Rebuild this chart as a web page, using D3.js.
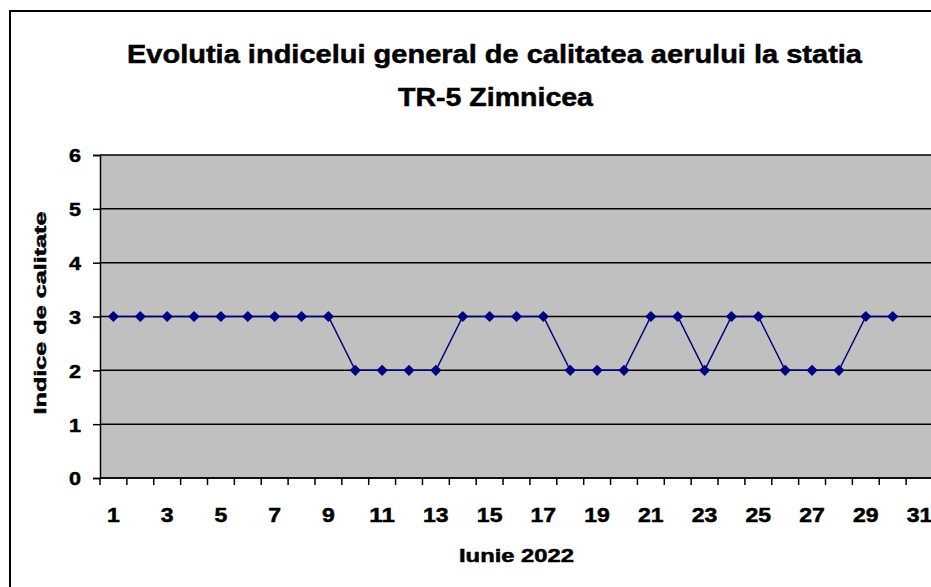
<!DOCTYPE html>
<html>
<head>
<meta charset="utf-8">
<script src="https://cdn.jsdelivr.net/npm/d3@7"></script>
<style>
  body { margin: 0; background: #fff; }
  svg { display: block; font-family: "Liberation Sans", Arial, sans-serif; font-weight: bold; }
  svg text { stroke: #000; stroke-width: 0.5px; fill: #000; }
</style>
</head>
<body>
<div id="content"></div>
<script>
// June 2022, day 31 kept as an empty category like the original
let days = d3.range(1, 32);
let values = [3, 3, 3, 3, 3, 3, 3, 3, 3, 2, 2, 2, 2, 3, 3, 3, 3, 2, 2, 2, 3, 3, 2, 3, 3, 2, 2, 2, 3, 3];
let yTicks = [0, 1, 2, 3, 4, 5, 6];
let titleLines = ["Evolutia indicelui general de calitatea aerului la statia", "TR-5 Zimnicea"];

let width = 931, height = 587;
let margin = {left: 100, top: 155, plotW: 833, plotH: 323};

let svg = d3.select('#content').append('svg')
  .attr('width', width)
  .attr('height', height);

// outer chart frame
svg.append('rect')
  .attr('x', 10).attr('y', 11)
  .attr('width', 1000).attr('height', 1000)
  .attr('fill', '#fff')
  .attr('stroke', '#000')
  .attr('stroke-width', 2);

let x = d3.scaleBand()
  .domain(days)
  .range([margin.left, margin.left + margin.plotW]);

let y = d3.scaleLinear()
  .domain([0, 6])
  .range([margin.top + margin.plotH, margin.top]);

// plot area
svg.append('rect')
  .attr('x', margin.left).attr('y', margin.top)
  .attr('width', margin.plotW).attr('height', margin.plotH)
  .attr('fill', '#c0c0c0');

// gridlines
svg.append('g')
  .selectAll('line')
  .data(yTicks)
  .join('line')
  .attr('x1', margin.left).attr('x2', margin.left + margin.plotW)
  .attr('y1', d => y(d)).attr('y2', d => y(d))
  .attr('stroke', '#000')
  .attr('stroke-width', 1.5);

// y axis
let yAxis = svg.append('g')
  .attr('transform', `translate(${margin.left},0)`)
  .call(d3.axisLeft(y).tickValues(yTicks).tickFormat(d3.format('d')).tickSize(7).tickPadding(12));
yAxis.select('.domain').attr('stroke-width', 1.5);
yAxis.selectAll('.tick line').attr('stroke-width', 1.5);
yAxis.selectAll('text')
  .attr('font-size', 19).attr('font-family', null).attr('font-weight', 'bold')
  .attr('fill', '#000')
  .attr('textLength', 12).attr('lengthAdjust', 'spacingAndGlyphs')
  .attr('dy', '0.36em');

// x axis: ticks between categories, labels on odd days
let xAxis = svg.append('g')
  .attr('transform', `translate(0,${margin.top + margin.plotH})`);
xAxis.append('line')
  .attr('x1', margin.left).attr('x2', margin.left + margin.plotW)
  .attr('stroke', '#000').attr('stroke-width', 1.5);
xAxis.selectAll('.tk')
  .data(days)
  .join('line')
  .attr('class', 'tk')
  .attr('x1', d => x(d)).attr('x2', d => x(d))
  .attr('y1', 0).attr('y2', 7)
  .attr('stroke', '#000').attr('stroke-width', 1.5);
xAxis.selectAll('text')
  .data(days.filter(d => d % 2 === 1))
  .join('text')
  .attr('x', d => x(d) + x.bandwidth() / 2)
  .attr('y', 44)
  .attr('text-anchor', 'middle')
  .attr('font-size', 20)
  .attr('textLength', d => String(d).length * 12.8)
  .attr('lengthAdjust', 'spacingAndGlyphs')
  .text(d => d);

// series line
let line = d3.line()
  .x((d, i) => x(days[i]) + x.bandwidth() / 2)
  .y(d => y(d));

svg.append('path')
  .datum(values)
  .attr('d', line)
  .attr('fill', 'none')
  .attr('stroke', '#000080')
  .attr('stroke-width', 1.5);

svg.append('g')
  .selectAll('path')
  .data(values)
  .join('path')
  .attr('d', d3.symbol(d3.symbolDiamond2, 80))
  .attr('transform', (d, i) => `translate(${x(days[i]) + x.bandwidth() / 2},${y(d)})`)
  .attr('fill', '#000080');

// titles
let titleWidths = [735, 195];
svg.append('g')
  .selectAll('text')
  .data(titleLines)
  .join('text')
  .attr('x', (d, i) => i === 0 ? 494.5 : 495.5)
  .attr('y', (d, i) => 63 + i * 43)
  .attr('text-anchor', 'middle')
  .attr('font-size', 26)
  .attr('textLength', (d, i) => titleWidths[i])
  .attr('lengthAdjust', 'spacingAndGlyphs')
  .text(d => d);

svg.append('text')
  .attr('x', 516.5).attr('y', 562)
  .attr('text-anchor', 'middle')
  .attr('font-size', 19)
  .attr('textLength', 115)
  .attr('lengthAdjust', 'spacingAndGlyphs')
  .text('Iunie 2022');

svg.append('text')
  .attr('transform', 'translate(46,313) rotate(-90)')
  .attr('text-anchor', 'middle')
  .attr('font-size', 17)
  .attr('textLength', 203)
  .attr('lengthAdjust', 'spacingAndGlyphs')
  .text('Indice de calitate');
</script>
</body>
</html>
